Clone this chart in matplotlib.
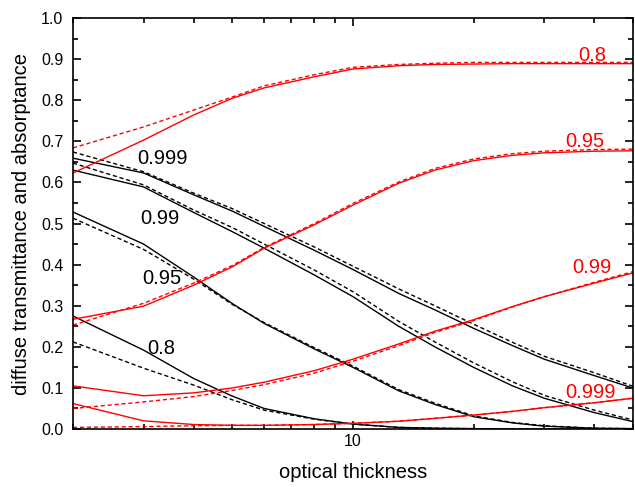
import matplotlib
matplotlib.use("Agg")
import matplotlib.pyplot as plt
from matplotlib.ticker import LogLocator, NullFormatter, FixedLocator, FixedFormatter

plt.rcParams['font.family'] = ['Liberation Sans', 'DejaVu Sans']

# optical thickness sample points
tau = [2, 3, 4, 5, 6, 8, 10, 13, 16, 20, 25, 30, 40, 50]

# diffuse transmittance (black), solid = model, dashed = approximation
T_0999 = [0.659, 0.623, 0.570, 0.530, 0.493, 0.435, 0.388, 0.330, 0.290, 0.245, 0.203, 0.170, 0.130, 0.0996]
T_0999_d = [0.674, 0.626, 0.574, 0.536, 0.500, 0.443, 0.396, 0.341, 0.300, 0.255, 0.211, 0.177, 0.137, 0.104]
T_099 = [0.630, 0.589, 0.527, 0.480, 0.440, 0.375, 0.322, 0.250, 0.200, 0.150, 0.105, 0.075, 0.040, 0.018]
T_099_d = [0.647, 0.594, 0.533, 0.490, 0.450, 0.387, 0.334, 0.262, 0.212, 0.161, 0.115, 0.082, 0.046, 0.022]
T_095 = [0.528, 0.450, 0.370, 0.305, 0.257, 0.195, 0.150, 0.093, 0.060, 0.030, 0.015, 0.007, 0.002, 0.001]
T_095_d = [0.513, 0.437, 0.365, 0.303, 0.259, 0.198, 0.153, 0.096, 0.063, 0.032, 0.016, 0.008, 0.002, 0.001]
T_08 = [0.275, 0.192, 0.123, 0.080, 0.050, 0.025, 0.012, 0.004, 0.002, 0.001, 0.0, 0.0, 0.0, 0.0]
T_08_d = [0.212, 0.148, 0.107, 0.071, 0.046, 0.024, 0.012, 0.004, 0.002, 0.001, 0.0, 0.0, 0.0, 0.0]

# absorptance (red)
A_08 = [0.623, 0.703, 0.764, 0.805, 0.830, 0.857, 0.876, 0.884, 0.887, 0.888, 0.889, 0.889, 0.889, 0.889]
A_08_d = [0.684, 0.735, 0.776, 0.808, 0.835, 0.862, 0.880, 0.887, 0.890, 0.892, 0.892, 0.892, 0.892, 0.892]
A_095 = [0.267, 0.299, 0.350, 0.395, 0.440, 0.497, 0.545, 0.598, 0.630, 0.653, 0.666, 0.672, 0.676, 0.677]
A_095_d = [0.253, 0.306, 0.355, 0.398, 0.442, 0.500, 0.549, 0.601, 0.634, 0.657, 0.670, 0.676, 0.680, 0.681]
A_099 = [0.105, 0.081, 0.088, 0.100, 0.114, 0.142, 0.170, 0.207, 0.238, 0.266, 0.298, 0.322, 0.355, 0.380]
A_099_d = [0.050, 0.066, 0.079, 0.094, 0.108, 0.136, 0.165, 0.203, 0.235, 0.264, 0.297, 0.322, 0.357, 0.383]
A_0999 = [0.062, 0.020, 0.011, 0.009, 0.009, 0.011, 0.014, 0.019, 0.026, 0.034, 0.043, 0.052, 0.064, 0.075]
A_0999_d = [0.004, 0.006, 0.008, 0.009, 0.009, 0.011, 0.014, 0.019, 0.026, 0.034, 0.043, 0.052, 0.064, 0.075]

black_labels = ["0.999", "0.99", "0.95", "0.8"]
red_labels = ["0.8", "0.95", "0.99", "0.999"]


def main():
    fig = plt.figure(figsize=(6.35, 4.87), dpi=100)
    ax = fig.add_axes([0.115, 0.119, 0.882, 0.844])

    for solid, dashed in [(T_0999, T_0999_d), (T_099, T_099_d), (T_095, T_095_d), (T_08, T_08_d)]:
        ax.plot(tau, solid, color="black", lw=1.0)
        ax.plot(tau, dashed, color="black", lw=1.0, ls=(0, (3, 2)))

    for solid, dashed in [(A_08, A_08_d), (A_095, A_095_d), (A_099, A_099_d), (A_0999, A_0999_d)]:
        ax.plot(tau, solid, color="red", lw=1.0)
        ax.plot(tau, dashed, color="red", lw=1.0, ls=(0, (3, 2)))

    # curve labels
    for lab, (x, y) in zip(black_labels, [(2.9, 0.659), (2.94, 0.513), (2.98, 0.367), (3.07, 0.197)]):
        ax.text(x, y, lab, fontsize=14.5, color="black", va="center", ha="left")
    for lab, (x, y) in zip(red_labels, [(36.5, 0.91), (33.9, 0.699), (35.2, 0.392), (33.9, 0.09)]):
        ax.text(x, y, lab, fontsize=14.5, color="red", va="center", ha="left")

    ax.set_xscale("log")
    ax.set_xlim(2, 50)
    ax.set_ylim(0, 1.0)

    ax.xaxis.set_major_locator(FixedLocator([10]))
    ax.xaxis.set_major_formatter(FixedFormatter(["10"]))
    ax.xaxis.set_minor_locator(LogLocator(base=10, subs=range(2, 10)))
    ax.xaxis.set_minor_formatter(NullFormatter())
    ax.set_yticks([i / 10 for i in range(11)])
    ax.set_yticklabels([f"{i / 10:.1f}" for i in range(11)])
    ax.set_yticks([i / 20 for i in range(1, 20, 2)], minor=True)

    ax.tick_params(which="both", direction="in", top=True, right=True, labelsize=11.5, width=1.2)
    ax.tick_params(which="major", length=6)
    ax.tick_params(which="minor", length=3.5)
    ax.tick_params(axis="y", which="major", pad=7)
    for s in ax.spines.values():
        s.set_linewidth(1.2)

    ax.set_xlabel("optical thickness", fontsize=14.5, labelpad=10)
    ax.set_ylabel("diffuse transmittance and absorptance", fontsize=14.5, labelpad=7)

    fig.savefig("out.png", dpi=100)


if __name__ == "__main__":
    main()
